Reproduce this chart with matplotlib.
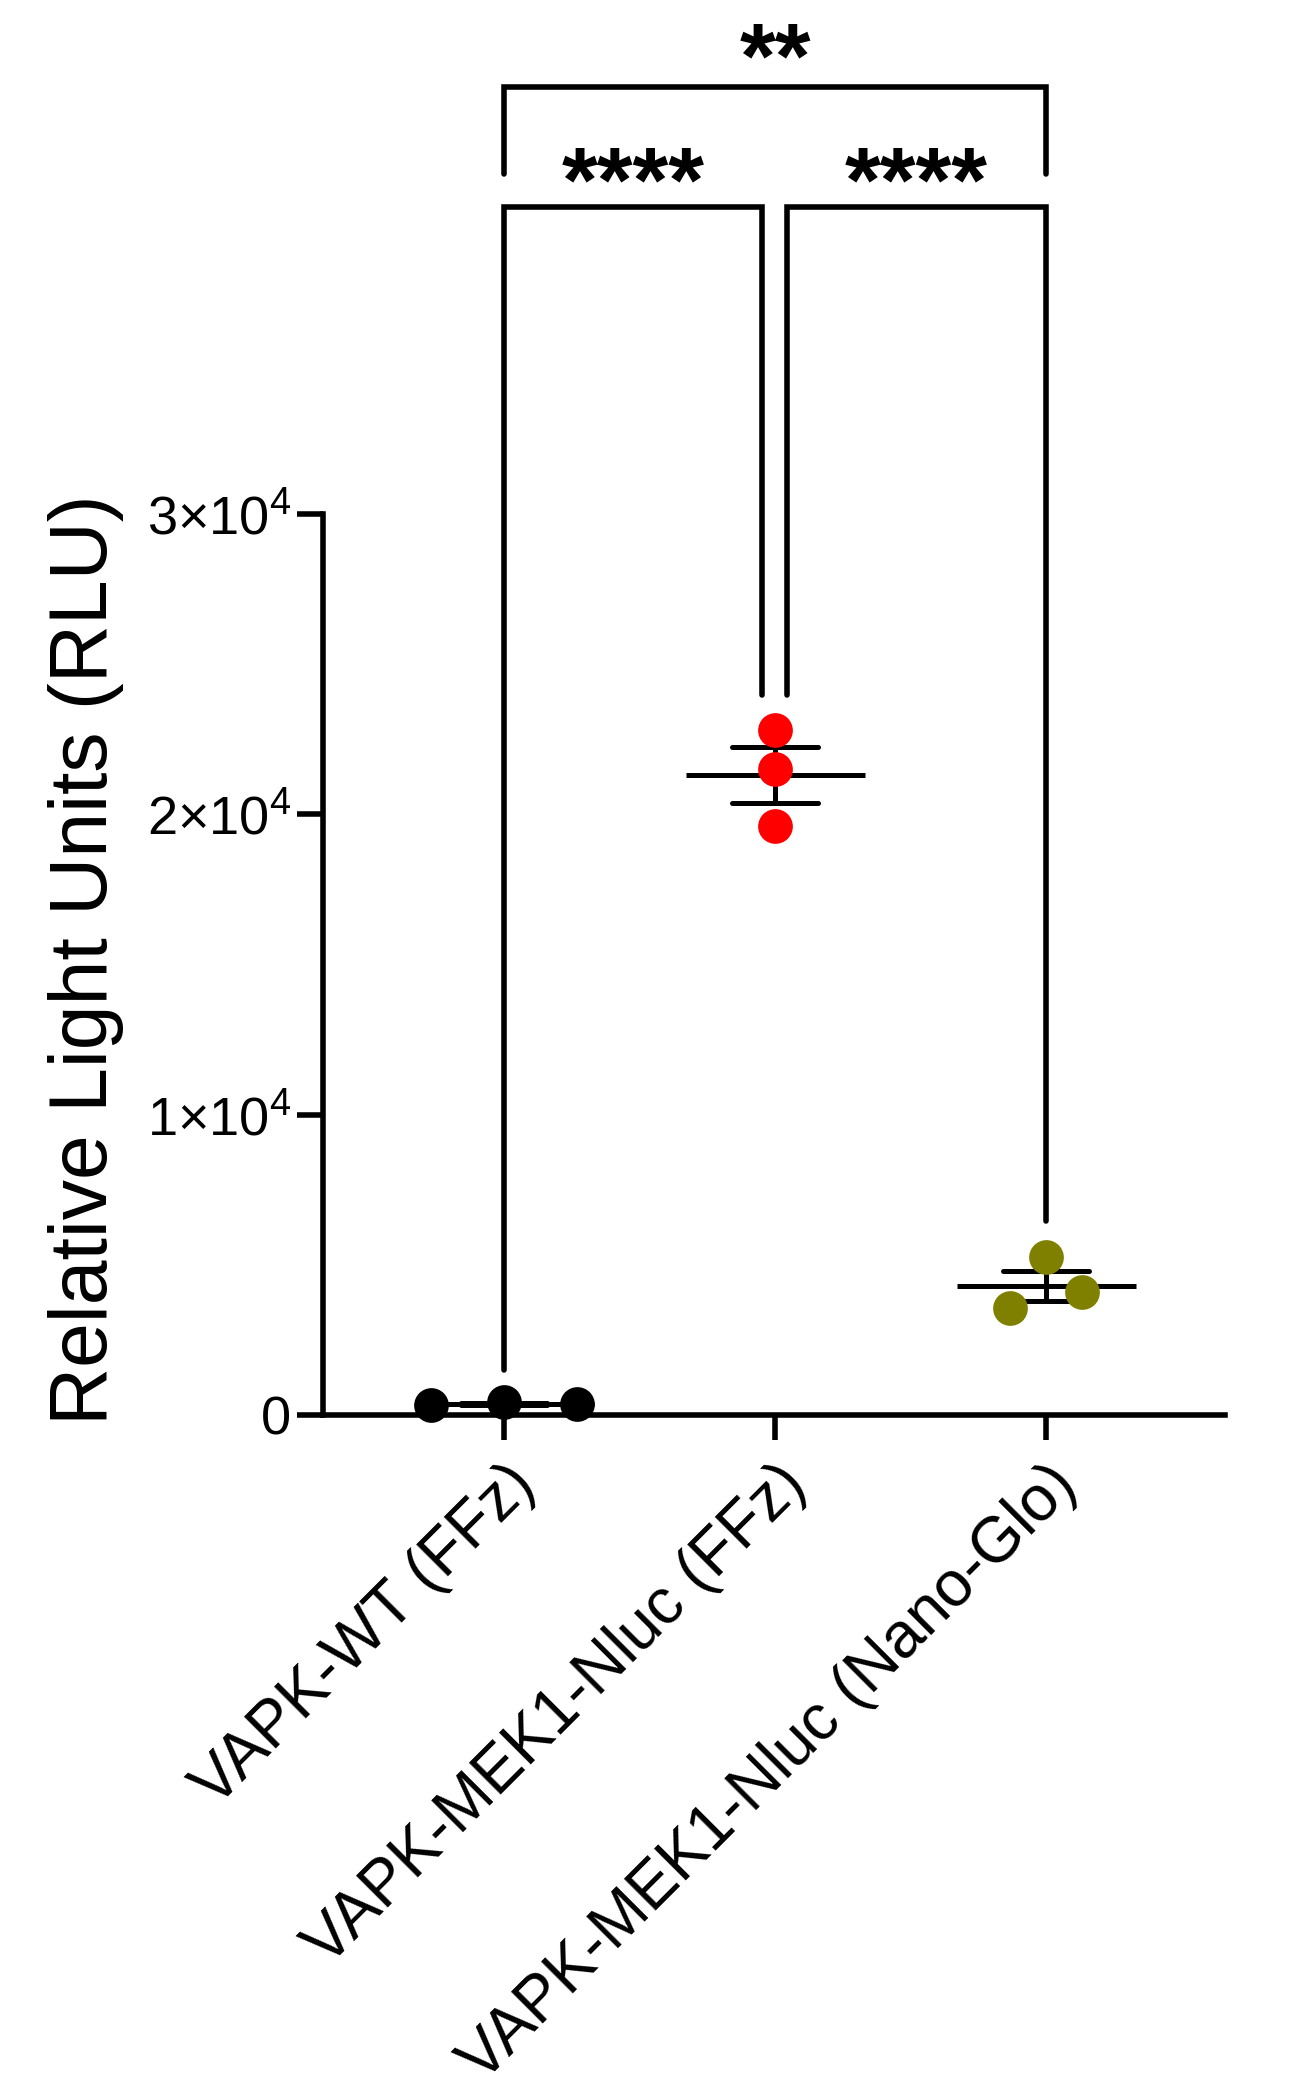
import matplotlib
matplotlib.use('Agg')
import matplotlib.pyplot as plt
import numpy as np
from matplotlib import font_manager

# ---------------- data ----------------
categories = ['VAPK-WT (FFz)', 'VAPK-MEK1-Nluc (FFz)', 'VAPK-MEK1-Nluc (Nano-Glo)']
wt_ffz = [320, 450, 360]
mek1_ffz = [22800, 21500, 19600]
mek1_nanoglo = [3550, 5250, 4100]
group_colors = ['#000000', '#FF0000', '#808000']
yticks = [0, 10000, 20000, 30000]
ytick_labels = ['0', '1×10$^4$', '2×10$^4$', '3×10$^4$']
ylabel = 'Relative Light Units (RLU)'
comparisons = [(0, 1, '****'), (1, 2, '****'), (0, 2, '**')]

groups = [wt_ffz, mek1_ffz, mek1_nanoglo]
# horizontal scatter offsets (layout only)
x_offsets = [[-0.268, 0.0, 0.268], [0.0, 0.0, 0.0], [-0.133, 0.0, 0.133]]

# ---------------- style ----------------
names = {f.name for f in font_manager.fontManager.ttflist}
base_font = 'Liberation Sans' if 'Liberation Sans' in names else 'DejaVu Sans'
narrow_font = 'Liberation Sans Narrow' if 'Liberation Sans Narrow' in names else None
plt.rcParams['font.family'] = [base_font, 'DejaVu Sans']
plt.rcParams['mathtext.fontset'] = 'custom'
plt.rcParams['mathtext.rm'] = base_font
plt.rcParams['mathtext.it'] = base_font
plt.rcParams['mathtext.bf'] = base_font + ':bold'

fig = plt.figure(figsize=(12.99, 20.92), dpi=100)
ax = fig.add_axes([0.2487, 0.3236, 0.943 - 0.2487, 0.7543 - 0.3236])

LW_AX = 4.0
LW_ERR = 3.6

for i, vals in enumerate(groups):
    vals = np.asarray(vals, dtype=float)
    m = vals.mean()
    sem = vals.std(ddof=1) / np.sqrt(len(vals))
    # mean line
    ax.plot([i - 0.33, i + 0.33], [m, m], color='k', lw=LW_ERR,
            solid_capstyle='butt', zorder=3, clip_on=False)
    # error bar
    ax.plot([i, i], [m - sem, m + sem], color='k', lw=LW_ERR,
            solid_capstyle='butt', zorder=3, clip_on=False)
    for e in (m - sem, m + sem):
        ax.plot([i - 0.16, i + 0.16], [e, e], color='k', lw=LW_ERR,
                solid_capstyle='round', zorder=3, clip_on=False)
    xs = [i + o for o in x_offsets[i]]
    ax.plot(xs, vals, 'o', color=group_colors[i], markersize=25,
            markeredgewidth=0, zorder=4, clip_on=False)

# significance brackets (layout values in data units)
def bracket(x0, x1, ytop, y0, y1, label, ty, tx):
    ax.plot([x0, x0, x1, x1], [y0, ytop, ytop, y1], color='k', lw=LW_AX,
            solid_joinstyle='miter', solid_capstyle='round', clip_on=False, zorder=2)
    ax.text(tx, ty, label, ha='center', va='top', fontsize=66,
            fontweight='bold', clip_on=False)

bracket(0, 0.952, 40222, 1498, 23973, comparisons[0][2], 42320, 0.476)
bracket(1.045, 2, 40222, 23973, 6460, comparisons[1][2], 42320, 1.52)
bracket(0, 2, 44218, 41322, 41322, comparisons[2][2], 46420, 1.0)

# axes
ax.set_xlim(-0.668, 2.66)
ax.set_ylim(0, 30000)
ax.set_yticks(yticks)
ax.set_yticklabels(ytick_labels, fontsize=39)
ax.set_xticks(range(len(categories)))
ax.set_xticklabels(categories, fontsize=46, rotation=45, ha='right',
                   va='top', rotation_mode='anchor')
for s in ['top', 'right']:
    ax.spines[s].set_visible(False)
for s in ['left', 'bottom']:
    ax.spines[s].set_linewidth(LW_AX)
ax.spines['left'].set_bounds(0, 30000)
ax.tick_params(axis='y', direction='out', length=19, width=LW_AX, pad=4)
ax.tick_params(axis='x', direction='out', length=18, width=LW_AX, pad=10)

if narrow_font:
    ax.set_ylabel(ylabel, fontsize=70, family=[narrow_font, base_font], va='center')
else:
    ax.set_ylabel(ylabel, fontsize=58, va='center')
ax.yaxis.set_label_coords(-0.263, 0.505)

fig.savefig('out.png', dpi=100)
